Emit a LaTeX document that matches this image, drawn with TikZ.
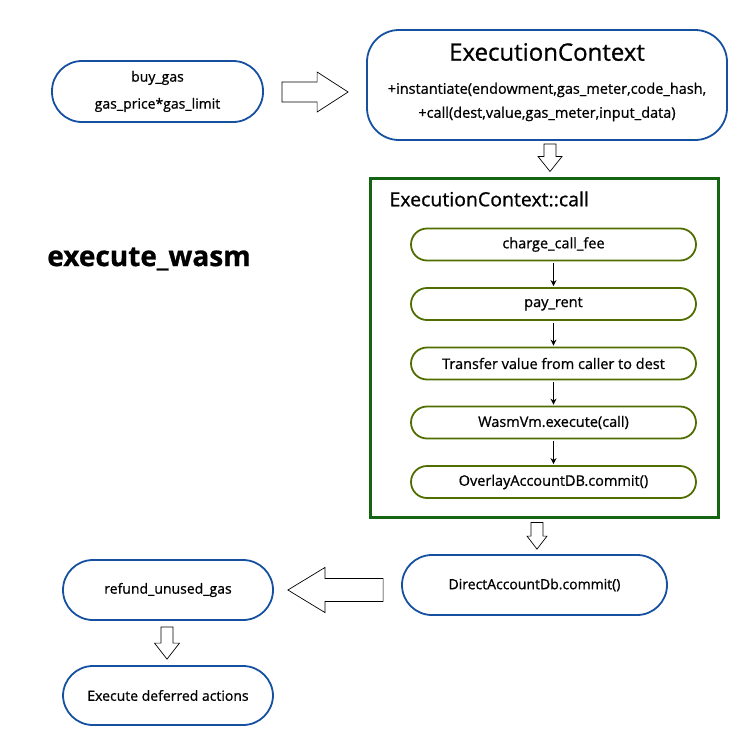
\documentclass[tikz,border=0pt]{standalone}
\usepackage{fontspec}
\setmainfont{Open Sans}[FakeBold=0.8]
\usetikzlibrary{calc}
\usetikzlibrary{arrows.meta}
\definecolor{boxblue}{RGB}{22,80,160}
\definecolor{stepolive}{RGB}{80,110,0}
\definecolor{framegreen}{RGB}{20,100,20}
\tikzset{
  flowbox/.style={draw=boxblue, line width=1.8pt, fill=white, rounded corners=30pt, inner sep=0pt},
  stepbox/.style={draw=stepolive, line width=1.8pt, rounded corners=16pt, minimum width=285pt, minimum height=32pt, inner sep=0pt, font=\fontsize{14.5}{16}\selectfont},
  steparrow/.style={line width=1.5pt, -{Stealth[length=6pt,width=6pt]}, shorten <=2pt, shorten >=1pt}
}
\newcommand{\fatarrow}[5]{\draw[line width=0.7pt] let \p1=(#1), \p2=(#2), \n1={atan2(\y2-\y1,\x2-\x1)}, \n2={veclen(\x2-\x1,\y2-\y1)} in [shift={(\p1)}, rotate=\n1] (0,-#3) -- (\n2-#5,-#3) -- (\n2-#5,-#4) -- (\n2,0) -- (\n2-#5,#4) -- (\n2-#5,#3) -- (0,#3) -- cycle;}

\begin{document}
\begin{tikzpicture}[x=1pt,y=-1pt]
\useasboundingbox (0,0) rectangle (750,755);
% top row
\node[flowbox, minimum width=211pt, minimum height=61pt, align=center, font=\fontsize{14}{27}\selectfont] (buygas) at (157.5,91.5) {buy\_gas\\gas\_price*gas\_limit};
\node[flowbox, rounded corners=32pt, minimum width=360pt, minimum height=110pt] (ctx) at (547,85) {};
\node[font=\fontsize{24}{28}\selectfont] (ctxtitle) at (547,52) {ExecutionContext};
\node[align=center, font=\fontsize{14.5}{24}\selectfont] (ctxops) at (547,102) {+instantiate(endowment,gas\_meter,code\_hash,\\+call(dest,value,gas\_meter,input\_data)};
% label on the left
\node[font=\fontsize{28}{32}\selectfont\bfseries] (wasm) at (149,259) {execute\_wasm};
% call frame
\node[draw=framegreen, line width=3pt, minimum width=348pt, minimum height=339pt, inner sep=0pt] (callbox) at (544,347.5) {};
\node[anchor=west, font=\fontsize{19.5}{22}\selectfont] (calltitle) at (386,199) {ExecutionContext::call};
% steps of the call
\node[stepbox] (fee) at (553.5,244.5) {charge\_call\_fee};
\node[stepbox] (rent) at (553.5,304) {pay\_rent};
\node[stepbox] (transfer) at (553.5,363.5) {Transfer value from caller to dest};
\node[stepbox] (vmexec) at (553.5,422.5) {WasmVm.execute(call)};
\node[stepbox] (overlay) at (553.5,482) {OverlayAccountDB.commit()};
\draw[steparrow] (fee) -- (rent);
\draw[steparrow] (rent) -- (transfer);
\draw[steparrow] (transfer) -- (vmexec);
\draw[steparrow] (vmexec) -- (overlay);
% bottom part
\node[flowbox, minimum width=265pt, minimum height=60pt, font=\fontsize{14}{16}\selectfont] (direct) at (534.5,585) {DirectAccountDb.commit()};
\node[flowbox, minimum width=210pt, minimum height=60pt, font=\fontsize{14}{16}\selectfont] (refund) at (168,590) {refund\_unused\_gas};
\node[flowbox, minimum width=210pt, minimum height=59pt, font=\fontsize{14}{16}\selectfont] (deferred) at (168,695.5) {Execute deferred actions};
% hollow arrows
\coordinate (a1s) at ($(buygas.east)+(18,0.5)$);
\coordinate (a1e) at ($(a1s -| ctx.west)+(-18,0)$);
\coordinate (a2s) at ($(ctx.south)+(3,3)$);
\coordinate (a2e) at ($(callbox.north)+(6,-5)$);
\coordinate (a3s) at ($(callbox.south)+(-7,4)$);
\coordinate (a3e) at ($(a3s |- direct.north)+(0,-5)$);
\coordinate (a4s) at ($(direct.west)+(-18,5)$);
\coordinate (a4e) at ($(a4s -| refund.east)+(14,0)$);
\coordinate (a5s) at ($(refund.south)+(-1,6)$);
\coordinate (a5e) at ($(a5s |- deferred.north)+(0,-6)$);
\fatarrow{a1s}{a1e}{10}{20}{31}
\fatarrow{a2s}{a2e}{6}{12}{15}
\fatarrow{a3s}{a3e}{6}{10}{13}
\fatarrow{a4s}{a4e}{11.5}{22.5}{37}
\fatarrow{a5s}{a5e}{6}{12.5}{16}
\end{tikzpicture}
\end{document}
